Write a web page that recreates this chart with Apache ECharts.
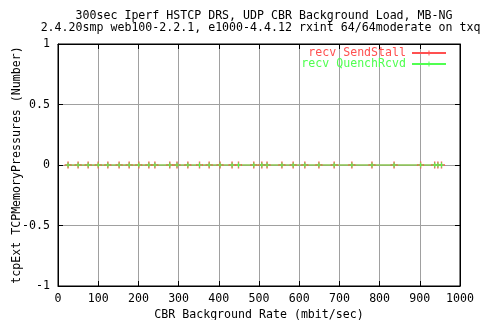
<!DOCTYPE html>
<html><head><meta charset="utf-8">
<script src="https://cdn.jsdelivr.net/npm/echarts@6/dist/echarts.min.js"></script>
<style>html,body{margin:0;padding:0;background:#fff}#c{width:480px;height:320px}</style>
</head><body><div id="c"></div>
<script>
var titleLines = ['300sec Iperf HSTCP DRS, UDP CBR Background Load, MB-NG',
  '2.4.20smp web100-2.2.1, e1000-4.4.12 rxint 64/64moderate on txq,'];
var xName = 'CBR Background Rate (mbit/sec)';
var yName = 'tcpExt TCPMemoryPressures (Number)';
var seriesNames = ['recv SendStall', 'recv QuenchRcvd'];
var cbrRates = [25,50,75,100,124,152,177,201,226,241,278,296,323,352,376,403,433,449,487,507,520,557,585,614,649,687,731,781,836,902,937,945,954];
var sendStall = [0,0,0,0,0,0,0,0,0,0,0,0,0,0,0,0,0,0,0,0,0,0,0,0,0,0,0,0,0,0,0,0,0];
var quenchRcvd = [0,0,0,0,0,0,0,0,0,0,0,0,0,0,0,0,0,0,0,0,0,0,0,0,0,0,0,0,0,0,0,0,0];
var xTicks = [0,100,200,300,400,500,600,700,800,900,1000];
var yTicks = [-1,-0.5,0,0.5,1];

var FONT = 'DejaVu Sans Mono';
var RED = '#ff5050', GREEN = '#50ff50';
var plus = 'path://M2,0H3V2H5V3H3V5H2V3H0V2H2Z';

function pairs(xs, ys){ return xs.map(function(x,i){ return [x, ys[i]]; }); }

var chart = echarts.init(document.getElementById('c'), null, {renderer:'canvas'});
var tick = {show:true, inside:true, length:5, lineStyle:{color:'#000'}};
var line = {show:true, onZero:false, lineStyle:{color:'#000', width:1}};
chart.setOption({
  animation:false,
  backgroundColor:'#fff',
  title:{text:titleLines.join('\n'), left:259, top:5, textAlign:'center',
    textStyle:{fontFamily:FONT, fontSize:11.6, fontWeight:'normal', color:'#000', lineHeight:12}},
  legend:[
    {data:[seriesNames[0]], right:33, top:47, orient:'vertical', align:'right', itemWidth:34, itemHeight:6, itemGap:0,
      textStyle:{fontFamily:FONT, fontSize:11.6, color:RED, padding:[0,1,0,0]}, padding:0, selectedMode:false},
    {data:[seriesNames[1]], right:33, top:58, orient:'vertical', align:'right', itemWidth:34, itemHeight:6, itemGap:0,
      textStyle:{fontFamily:FONT, fontSize:11.6, color:GREEN, padding:[0,1,0,0]}, padding:0, selectedMode:false}
  ],
  grid:{left:58, right:20, top:44, bottom:34, show:true, borderColor:'#000', borderWidth:1,
    containLabel:false, outerBoundsMode:'none'},
  xAxis:[{
    type:'value', min:0, max:1000, interval:100, position:'bottom',
    name:xName, nameLocation:'middle', nameGap:23, nameMoveOverlap:false,
    nameTextStyle:{fontFamily:FONT, fontSize:11.6, color:'#000'},
    axisLine:line, axisTick:tick,
    axisLabel:{fontFamily:FONT, fontSize:11.6, color:'#000', margin:7,
      formatter:function(v){ return xTicks.indexOf(v)>=0 ? String(v) : ''; }},
    splitLine:{show:true, lineStyle:{color:'#a0a0a0', width:1}}
  },{
    type:'value', min:0, max:1000, interval:100, position:'top',
    axisLine:line, axisTick:tick,
    axisLabel:{show:false}, splitLine:{show:false}
  }],
  yAxis:[{
    type:'value', min:-1, max:1, interval:0.5, position:'left',
    name:yName, nameLocation:'middle', nameGap:35, nameMoveOverlap:false,
    nameTextStyle:{fontFamily:FONT, fontSize:11.6, color:'#000'},
    axisLine:line, axisTick:tick,
    axisLabel:{fontFamily:FONT, fontSize:11.6, color:'#000', margin:8,
      formatter:function(v){ return yTicks.indexOf(v)>=0 ? String(v) : ''; }},
    splitLine:{show:true, lineStyle:{color:'#a0a0a0', width:1}}
  },{
    type:'value', min:-1, max:1, interval:0.5, position:'right',
    axisLine:line, axisTick:tick,
    axisLabel:{show:false}, splitLine:{show:false}
  }],
  series:[
    {name:seriesNames[0], type:'line', data:pairs(cbrRates, sendStall),
      symbol:plus, symbolSize:7, showSymbol:true, itemStyle:{color:RED}, lineStyle:{color:RED, width:1}},
    {name:seriesNames[1], type:'line', data:pairs(cbrRates, quenchRcvd),
      symbol:plus, symbolSize:5, showSymbol:true, itemStyle:{color:GREEN}, lineStyle:{color:GREEN, width:1}}
  ]
});
</script></body></html>
